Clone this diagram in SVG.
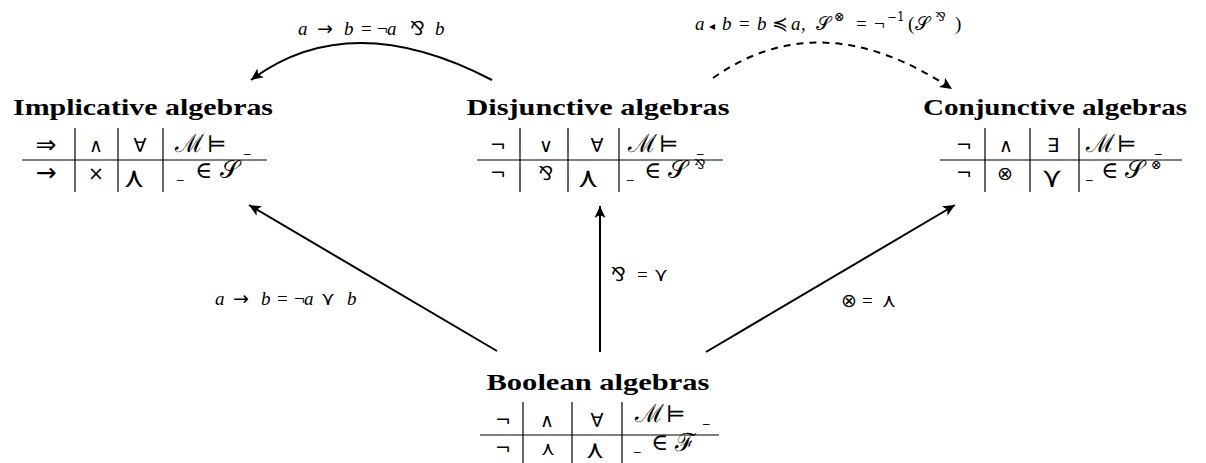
<svg xmlns="http://www.w3.org/2000/svg" width="1206" height="463" viewBox="0 0 1206 463">
<style>
.title{font-family:"Liberation Serif","DejaVu Serif",serif;font-weight:bold;font-size:24px;text-anchor:middle;fill:#000}
.c{font-family:"DejaVu Sans","Liberation Sans",sans-serif;font-size:19px;text-anchor:middle;fill:#000}
.arr{font-size:25px}
.big{font-size:28px}
.s{font-family:"DejaVu Serif","Liberation Serif",serif;font-size:23px;fill:#000}
.m{font-size:25px}
.u{font-family:"DejaVu Sans",sans-serif;font-size:13px;fill:#000}
.sup{font-family:"DejaVu Serif","DejaVu Sans",serif;font-size:13px;fill:#000}
.lbl{font-family:"Liberation Serif","DejaVu Serif",serif;font-size:19px;fill:#000}
.it{font-style:italic}
.sym{font-family:"DejaVu Sans","Liberation Serif",sans-serif;font-style:normal}
.rule{stroke:#000;stroke-width:1.2;fill:none}
.edge{stroke:#000;stroke-width:2;fill:none}
</style>
<defs>
<marker id="ah" markerUnits="userSpaceOnUse" markerWidth="16" markerHeight="14" refX="13" refY="7" orient="auto">
<path d="M1,1.5 L13,7 L1,12.5 L4,7 Z" fill="#000"/>
</marker>
</defs>

<g id="connectors">
<line class="edge" x1="497" y1="351" x2="249" y2="205" marker-end="url(#ah)"/>
<line class="edge" x1="600" y1="352" x2="600" y2="206" marker-end="url(#ah)"/>
<line class="edge" x1="706" y1="352" x2="955" y2="205" marker-end="url(#ah)"/>
<path class="edge" d="M492,80 Q350,6 251,80" marker-end="url(#ah)"/>
<path class="edge" d="M713,78 Q821,2 952,89" stroke-dasharray="7,6" marker-end="url(#ah)"/>

<text class="lbl" y="35"><tspan class="it" x="298">a</tspan><tspan class="sym" x="317">→</tspan><tspan class="it" x="344">b</tspan><tspan x="361">=</tspan><tspan x="377">¬</tspan><tspan class="it" x="387">a</tspan><tspan class="sym" x="410">⅋</tspan><tspan class="it" x="435">b</tspan></text>

<text class="lbl" y="30"><tspan class="it" x="695">a</tspan><tspan class="sym" x="709" font-size="12">◂</tspan><tspan class="it" x="722">b</tspan><tspan x="739">=</tspan><tspan class="it" x="757">b</tspan><tspan class="sym" x="772">≼</tspan><tspan class="it" x="791">a</tspan><tspan x="801">,</tspan><tspan class="sym" x="816">𝒮</tspan><tspan x="856">=</tspan><tspan x="874">¬</tspan><tspan x="908">(</tspan><tspan class="sym" x="915">𝒮</tspan><tspan x="955">)</tspan></text>
<text class="sup" x="834" y="21">⊗</text>
<text class="sup" x="887" y="21" style="font-size:12px">−1</text>
<text class="sup" x="935" y="21" style="font-size:12px">⅋</text>

<text class="lbl" y="305"><tspan class="it" x="215">a</tspan><tspan class="sym" x="233">→</tspan><tspan class="it" x="261">b</tspan><tspan x="277">=</tspan><tspan x="294">¬</tspan><tspan class="it" x="304">a</tspan><tspan class="sym" x="321">⋎</tspan><tspan class="it" x="347">b</tspan></text>
<text class="lbl" y="281"><tspan class="sym" x="611">⅋</tspan><tspan x="637">=</tspan><tspan class="sym" x="654">⋎</tspan></text>
<text class="lbl" y="307"><tspan class="sym" x="841">⊗</tspan><tspan x="862">=</tspan><tspan class="sym" x="882">⋏</tspan></text>
</g>

<g id="implicative">
<text class="title" x="143" y="115" textLength="260" lengthAdjust="spacingAndGlyphs">Implicative algebras</text>
<line class="rule" x1="22" y1="160" x2="267" y2="160"/>
<line class="rule" x1="75" y1="128" x2="75" y2="192"/>
<line class="rule" x1="118" y1="128" x2="118" y2="192"/>
<line class="rule" x1="163" y1="128" x2="163" y2="192"/>
<text class="c arr" x="46" y="153">⇒</text>
<text class="c" x="96" y="152">∧</text>
<text class="c" x="140" y="152">∀</text>
<text class="s m" x="175" y="152">ℳ</text><text class="s" x="207" y="152">⊨</text><text class="u" x="244" y="152">_</text>
<text class="c arr" x="46" y="181">→</text>
<text class="c" x="96" y="180">×</text>
<text class="c big" x="134" y="187">⋏</text>
<text class="u" x="177" y="178">_</text><text class="s" x="195" y="178">∈</text><text class="s m" x="220" y="178">𝒮</text>
</g>

<g id="disjunctive">
<text class="title" x="598" y="115" textLength="263" lengthAdjust="spacingAndGlyphs">Disjunctive algebras</text>
<line class="rule" x1="477" y1="160" x2="723" y2="160"/>
<line class="rule" x1="520" y1="128" x2="520" y2="192"/>
<line class="rule" x1="568" y1="128" x2="568" y2="192"/>
<line class="rule" x1="619" y1="128" x2="619" y2="192"/>
<text class="c" x="498" y="152">¬</text>
<text class="c" x="546" y="152">∨</text>
<text class="c" x="597" y="152">∀</text>
<text class="s m" x="628" y="152">ℳ</text><text class="s" x="659" y="152">⊨</text><text class="u" x="697" y="152">_</text>
<text class="c" x="498" y="180">¬</text>
<text class="c" x="546" y="180">⅋</text>
<text class="c big" x="588" y="187">⋏</text>
<text class="u" x="627" y="178">_</text><text class="s" x="644" y="178">∈</text><text class="s m" x="668" y="178">𝒮</text><text class="sup" x="694" y="169">⅋</text>
</g>

<g id="conjunctive">
<text class="title" x="1055" y="115" textLength="264" lengthAdjust="spacingAndGlyphs">Conjunctive algebras</text>
<line class="rule" x1="940" y1="160" x2="1182" y2="160"/>
<line class="rule" x1="985" y1="128" x2="985" y2="192"/>
<line class="rule" x1="1030" y1="128" x2="1030" y2="192"/>
<line class="rule" x1="1079" y1="128" x2="1079" y2="192"/>
<text class="c" x="964" y="152">¬</text>
<text class="c" x="1006" y="152">∧</text>
<text class="c" x="1053" y="152">∃</text>
<text class="s m" x="1086" y="152">ℳ</text><text class="s" x="1117" y="152">⊨</text><text class="u" x="1155" y="152">_</text>
<text class="c" x="964" y="180">¬</text>
<text class="c" x="1005" y="180">⊗</text>
<text class="c big" x="1052" y="187">⋎</text>
<text class="u" x="1086" y="178">_</text><text class="s" x="1101" y="178">∈</text><text class="s m" x="1125" y="178">𝒮</text><text class="sup" x="1151" y="169">⊗</text>
</g>

<g id="boolean">
<text class="title" x="598" y="390" textLength="223" lengthAdjust="spacingAndGlyphs">Boolean algebras</text>
<line class="rule" x1="480" y1="435" x2="719" y2="435"/>
<line class="rule" x1="523" y1="402" x2="523" y2="463"/>
<line class="rule" x1="572" y1="402" x2="572" y2="463"/>
<line class="rule" x1="622" y1="402" x2="622" y2="463"/>
<text class="c" x="503" y="427">¬</text>
<text class="c" x="547" y="427">∧</text>
<text class="c" x="597" y="427">∀</text>
<text class="s m" x="635" y="422">ℳ</text><text class="s" x="666" y="422">⊨</text><text class="u" x="703" y="422">_</text>
<text class="c" x="503" y="455">¬</text>
<text class="c" x="548" y="455">⋏</text>
<text class="c" x="595" y="458" style="font-size:25px">⋏</text>
<text class="u" x="634" y="450">_</text><text class="s" x="651" y="450">∈</text><text class="s m" x="675" y="451">ℱ</text>
</g>
</svg>
